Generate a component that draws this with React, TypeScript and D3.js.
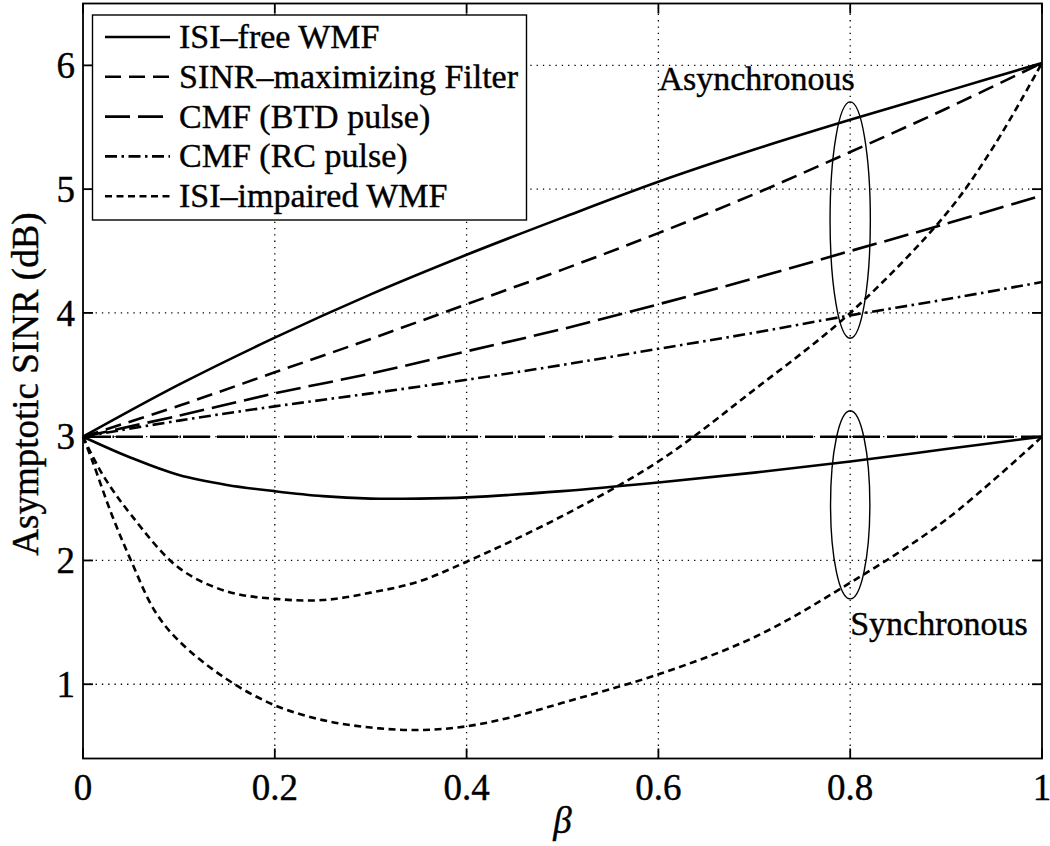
import React from 'react';
import * as d3 from 'd3';

// Axis ticks
const betaTicks = [0, 0.2, 0.4, 0.6, 0.8, 1];
const sinrTicks = [1, 2, 3, 4, 5, 6];

// Asynchronous system
const asyncBeta = [0, 0.1, 0.2, 0.3, 0.4, 0.5, 0.6, 0.7, 0.8, 0.9, 1];
const asyncIsiFreeWmf = [3.0, 3.42, 3.8, 4.15, 4.47, 4.77, 5.06, 5.32, 5.56, 5.79, 6.02];
const asyncSinrMax = [3.0, 3.25, 3.52, 3.79, 4.07, 4.35, 4.645, 4.96, 5.3, 5.65, 6.02];
const asyncCmfBtd = [3.0, 3.17, 3.35, 3.51, 3.69, 3.87, 4.07, 4.28, 4.5, 4.72, 4.95];
const asyncCmfRc = [3.0, 3.13, 3.245, 3.35, 3.46, 3.58, 3.71, 3.84, 3.98, 4.11, 4.25];
const asyncImpairedBeta = [0, 0.02, 0.05, 0.1, 0.15, 0.2, 0.25, 0.3, 0.35, 0.4, 0.5, 0.6, 0.7, 0.8, 0.9, 0.95, 1];
const asyncIsiImpairedWmf = [3.0, 2.7, 2.37, 1.94, 1.75, 1.69, 1.68, 1.74, 1.83, 1.99, 2.36, 2.8, 3.38, 4.0, 4.8, 5.35, 6.02];

// Synchronous system
const syncBeta = [0, 0.05, 0.1, 0.15, 0.2, 0.25, 0.3, 0.35, 0.4, 0.5, 0.6, 0.7, 0.8, 0.9, 1];
const syncIsiFreeWmf = [3.0, 2.83, 2.69, 2.61, 2.56, 2.52, 2.5, 2.5, 2.51, 2.56, 2.63, 2.71, 2.8, 2.9, 3.0];
// SINR-maximizing filter and both CMFs coincide at 3 dB in the synchronous case
const syncFlatBeta = [0, 1];
const syncCoincident = [3.0, 3.0];
const syncImpairedBeta = [0, 0.01, 0.03, 0.05, 0.075, 0.1, 0.15, 0.2, 0.25, 0.3, 0.35, 0.4, 0.45, 0.5, 0.6, 0.7, 0.8, 0.9, 1];
const syncIsiImpairedWmf = [3.0, 2.8, 2.37, 2.0, 1.59, 1.35, 1.04, 0.83, 0.71, 0.65, 0.63, 0.66, 0.74, 0.85, 1.08, 1.38, 1.82, 2.33, 3.0];

const legendLabels = [
  'ISI\u2013free WMF',
  'SINR\u2013maximizing Filter',
  'CMF (BTD pulse)',
  'CMF (RC pulse)',
  'ISI\u2013impaired WMF',
];

// Group rings: beta position, centre SINR, half-height (dB), half-width (beta)
const ringBeta = [0.8, 0.8];
const ringCenter = [4.75, 2.45];
const ringHalfHeight = [0.955, 0.76];
const ringHalfWidth = [0.021, 0.0205];
const groupLabels = ['Asynchronous', 'Synchronous'];
const groupLabelBeta = [0.6, 0.8];
const groupLabelSinr = [5.8, 1.4];

const W = 1050;
const H = 846;
const FONT = '"Liberation Serif", "Times New Roman", Times, serif';

const dashes = {
  solid: undefined as string | undefined,
  sinrMax: '16 8',
  btd: '25 8',
  rc: '12 4.5 2.5 4.5',
  impaired: '7 4.5',
  // overlapping long-dash and dash-dot strokes
  coincident: '28 1.5 1.5 2 27 7',
};

export default function App() {
  const x = d3.scaleLinear().domain([0, 1]).range([83, 1042]);
  const y = d3.scaleLinear().domain([0.4, 6.5]).range([758.5, 3.5]);
  const [x0, x1] = x.range();
  const [y0, y1] = y.range();

  const line = (xs: number[], ys: number[]) =>
    d3
      .line<number>()
      .x((_, i) => x(xs[i]))
      .y((v) => y(v))
      .curve(d3.curveCatmullRom.alpha(0.5))(ys) as string;

  const series = [
    { xs: asyncBeta, ys: asyncIsiFreeWmf, dash: dashes.solid },
    { xs: asyncBeta, ys: asyncSinrMax, dash: dashes.sinrMax },
    { xs: asyncBeta, ys: asyncCmfBtd, dash: dashes.btd },
    { xs: asyncBeta, ys: asyncCmfRc, dash: dashes.rc },
    { xs: asyncImpairedBeta, ys: asyncIsiImpairedWmf, dash: dashes.impaired },
    { xs: syncBeta, ys: syncIsiFreeWmf, dash: dashes.solid },
    { xs: syncFlatBeta, ys: syncCoincident, dash: dashes.coincident },
    { xs: syncImpairedBeta, ys: syncIsiImpairedWmf, dash: dashes.impaired },
  ];

  const legendDash = [dashes.solid, dashes.sinrMax, dashes.btd, dashes.rc, dashes.impaired];
  const tickLen = 10;
  const textStroke = { stroke: '#000', strokeWidth: 0.4 };

  return (
    <svg
      width={W}
      height={H}
      style={{ position: 'absolute', left: 0, top: 0, background: '#fff', display: 'block' }}
      fontFamily={FONT}
    >
      <rect x={0} y={0} width={W} height={H} fill="#fff" />

      {/* grid */}
      <g stroke="#000" strokeWidth={1.3} strokeDasharray="1.3 5">
        {betaTicks
          .filter((t) => t > 0 && t < 1)
          .map((t) => (
            <line key={'gx' + t} x1={x(t)} x2={x(t)} y1={y0} y2={y1} />
          ))}
        {sinrTicks.map((t) => (
          <line key={'gy' + t} x1={x0} x2={x1} y1={y(t)} y2={y(t)} />
        ))}
      </g>

      {/* curves */}
      <g fill="none" stroke="#000" strokeWidth={2.6}>
        {series.map((s, i) => (
          <path key={i} d={line(s.xs, s.ys)} strokeDasharray={s.dash} />
        ))}
      </g>

      {/* group rings */}
      <g fill="none" stroke="#000" strokeWidth={1.4}>
        {ringBeta.map((b, i) => (
          <ellipse
            key={i}
            cx={x(b)}
            cy={y(ringCenter[i])}
            rx={x(b + ringHalfWidth[i]) - x(b)}
            ry={y(ringCenter[i] - ringHalfHeight[i]) - y(ringCenter[i])}
          />
        ))}
      </g>
      {groupLabels.map((t, i) => (
        <text key={t} x={x(groupLabelBeta[i])} y={y(groupLabelSinr[i])} fontSize={34} fill="#000" {...textStroke}>
          {t}
        </text>
      ))}

      {/* axes box and ticks */}
      <g stroke="#000" strokeWidth={1.8}>
        <rect x={x0} y={y1} width={x1 - x0} height={y0 - y1} fill="none" />
        {betaTicks.map((t) => (
          <g key={'tx' + t}>
            <line x1={x(t)} x2={x(t)} y1={y0} y2={y0 - tickLen} />
            <line x1={x(t)} x2={x(t)} y1={y1} y2={y1 + tickLen} />
          </g>
        ))}
        {sinrTicks.map((t) => (
          <g key={'ty' + t}>
            <line x1={x0} x2={x0 + tickLen} y1={y(t)} y2={y(t)} />
            <line x1={x1} x2={x1 - tickLen} y1={y(t)} y2={y(t)} />
          </g>
        ))}
      </g>

      {/* tick labels */}
      <g fontSize={37} fill="#000" {...textStroke}>
        {betaTicks.map((t) => (
          <text key={'lx' + t} x={x(t)} y={800} textAnchor="middle">
            {d3.format('~g')(t)}
          </text>
        ))}
        {sinrTicks.map((t) => (
          <text key={'ly' + t} x={x0 - 8} y={y(t)} dy="0.34em" textAnchor="end">
            {t}
          </text>
        ))}
      </g>

      {/* axis titles */}
      <text
        transform={`translate(38, ${(y0 + y1) / 2 + 3}) rotate(-90)`}
        textAnchor="middle"
        fontSize={37}
        fill="#000"
        {...textStroke}
      >
        Asymptotic SINR (dB)
      </text>
      <text x={(x0 + x1) / 2} y={833} textAnchor="middle" fontSize={37} fontStyle="italic" fill="#000" {...textStroke}>
        β
      </text>

      {/* legend */}
      <g>
        <rect x={92.5} y={15} width={434} height={205} fill="#fff" stroke="#000" strokeWidth={1.4} />
        {legendLabels.map((lab, i) => {
          const cy = 37 + i * 39.8;
          return (
            <g key={lab}>
              <line
                x1={105}
                x2={170}
                y1={cy}
                y2={cy}
                stroke="#000"
                strokeWidth={2.6}
                strokeDasharray={legendDash[i]}
              />
              <text x={179} y={cy + 11} fontSize={34} fill="#000" {...textStroke}>
                {lab}
              </text>
            </g>
          );
        })}
      </g>
    </svg>
  );
}
